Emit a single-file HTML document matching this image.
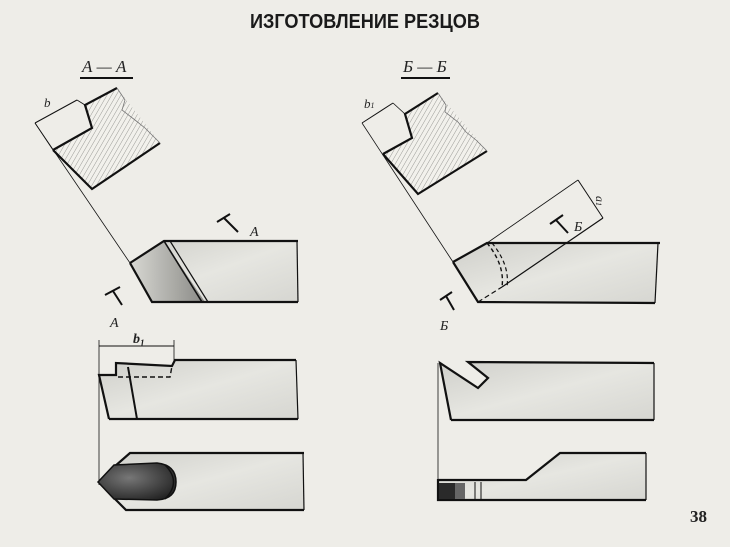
<!DOCTYPE html>
<html><head><meta charset="utf-8"><style>
html,body{margin:0;padding:0;width:730px;height:547px;overflow:hidden;background:#eeede8}
svg{display:block}
</style></head><body>
<svg width="730" height="547" viewBox="0 0 730 547" xmlns="http://www.w3.org/2000/svg" font-family="Liberation Serif, serif">
<defs>
<pattern id="h" width="4" height="4" patternUnits="userSpaceOnUse" patternTransform="rotate(30)">
<rect width="4" height="4" fill="#f2f1ec"/><line x1="0" y1="0" x2="0" y2="4" stroke="#9a9a96" stroke-width="1"/></pattern>
<linearGradient id="g" x1="0" y1="0" x2="1" y2="1"><stop offset="0" stop-color="#cfcfca"/><stop offset="0.5" stop-color="#e6e6e1"/><stop offset="1" stop-color="#d6d6d1"/></linearGradient>
<linearGradient id="gd" x1="0" y1="0" x2="1" y2="0"><stop offset="0" stop-color="#d8d8d3"/><stop offset="1" stop-color="#8a8a86"/></linearGradient>
<radialGradient id="tip" cx="0.4" cy="0.4" r="0.7"><stop offset="0" stop-color="#777"/><stop offset="1" stop-color="#222"/></radialGradient>
</defs>
<rect width="730" height="547" fill="#eeede8"/>
<text x="250" y="28" font-family="Liberation Sans, sans-serif" font-weight="bold" font-size="20" textLength="230" lengthAdjust="spacingAndGlyphs" fill="#1a1a1a">ИЗГОТОВЛЕНИЕ РЕЗЦОВ</text>

<g stroke="#111" fill="none">
<text x="82" y="72" font-style="italic" font-size="17" fill="#222" stroke="none">А — А</text>
<line x1="80" y1="78" x2="133" y2="78" stroke-width="2"/>
<polygon points="85,105 117,88 160,143 92,189 53,150 92,128" fill="url(#h)" stroke="none"/>
<polyline points="53,150 92,128 85,105 117,88" stroke-width="2.2"/>
<polyline points="160,143 92,189 53,150" stroke-width="2.2"/>
<path d="M117,88 L125,100 L122,110 L135,120 L145,128 L160,143" stroke-width="0.8" stroke="#777"/>
<line x1="35" y1="123" x2="77" y2="100" stroke-width="1"/>
<line x1="35" y1="123" x2="53" y2="150" stroke-width="0.8"/>
<line x1="77" y1="100" x2="85" y2="105" stroke-width="0.8"/>
<text x="44" y="107" font-size="13" font-style="italic" fill="#222" stroke="none">b</text>
<line x1="35" y1="123" x2="130" y2="263" stroke-width="0.8"/>
<polygon points="130,263 164,241 298,241 298,302 152,302" fill="url(#g)" stroke="none"/>
<polygon points="130,263 164,241 205,302 152,302" fill="url(#gd)" stroke="none"/>
<polyline points="130,263 164,241 298,241" stroke-width="2.2"/>
<polyline points="130,263 152,302 298,302" stroke-width="2.2"/>
<line x1="297" y1="241" x2="298" y2="302" stroke-width="1.2"/>
<line x1="164" y1="241" x2="202" y2="302" stroke-width="1.6"/>
<line x1="170" y1="241" x2="208" y2="302" stroke-width="1.2"/>
<path d="M217,222 L230,214 M224,218 L238,232" stroke-width="2"/>
<text x="250" y="236" font-size="14" font-style="italic" fill="#222" stroke="none">A</text>
<path d="M105,295 L120,287 M113,291 L122,305" stroke-width="2"/>
<text x="110" y="327" font-size="14" font-style="italic" fill="#222" stroke="none">A</text>

<line x1="99" y1="340" x2="99" y2="485" stroke-width="0.8"/>
<line x1="99" y1="346" x2="174" y2="346" stroke-width="1"/>
<line x1="174" y1="340" x2="174" y2="364" stroke-width="0.8"/>
<text x="133" y="343" font-size="14" font-style="italic" font-weight="bold" fill="#222" stroke="none">b<tspan font-size="9" dy="3">1</tspan></text>
<polygon points="109,419 99,375 116,375 116,363 172,366 175,360 296,360 298,419" fill="url(#g)" stroke="none"/>
<polyline points="109,419 99,375 116,375 116,363 172,366 175,360 296,360" stroke-width="2.2"/>
<line x1="109" y1="419" x2="298" y2="419" stroke-width="2.2"/>
<line x1="296" y1="360" x2="298" y2="419" stroke-width="1.2"/>
<line x1="128" y1="367" x2="137" y2="419" stroke-width="2"/>
<polyline points="118,377 170,377 172,366" stroke-width="1.4" stroke-dasharray="5,3"/>
<polygon points="130,453 304,453 304,510 126,510 114,498 98,482 114,467" fill="url(#g)" stroke="none"/>
<polyline points="114,467 130,453 304,453" stroke-width="2.2"/>
<polyline points="114,498 126,510 304,510" stroke-width="2.2"/>
<line x1="303" y1="453" x2="304" y2="510" stroke-width="1.2"/>
<path d="M98,482 L114,465 L157,463 Q176,465 176,482 Q176,499 157,500 L114,499 Z" fill="url(#tip)" stroke-width="1.5"/>
<path d="M165,465 Q182,482 165,499" stroke-width="1.4"/>

<text x="403" y="72" font-style="italic" font-size="17" fill="#222" stroke="none">Б — Б</text>
<line x1="401" y1="78" x2="450" y2="78" stroke-width="2"/>
<polygon points="383,154 412,138 405,114 438,93 487,151 418,194" fill="url(#h)" stroke="none"/>
<polyline points="383,154 412,138 405,114 438,93" stroke-width="2.2"/>
<polyline points="487,151 418,194 383,154" stroke-width="2.2"/>
<path d="M438,93 L446,105 L445,112 L458,122 L466,132 L476,140 L487,151" stroke-width="0.8" stroke="#777"/>
<line x1="362" y1="123" x2="393" y2="103" stroke-width="1"/>
<line x1="393" y1="103" x2="405" y2="114" stroke-width="0.8"/>
<text x="364" y="108" font-size="13" font-style="italic" fill="#222" stroke="none">b<tspan font-size="8">1</tspan></text>
<line x1="362" y1="123" x2="453" y2="262" stroke-width="0.8"/>
<polygon points="453,262 487,243 660,243 655,303 478,302" fill="url(#g)" stroke="none"/>
<polyline points="453,262 487,243 660,243" stroke-width="2.2"/>
<polyline points="453,262 478,302 655,303" stroke-width="2.2"/>
<line x1="658" y1="243" x2="655" y2="303" stroke-width="1.2"/>
<path d="M487,243 Q505,265 502,287" stroke-width="1.4" stroke-dasharray="4,3"/>
<path d="M492,243 Q510,265 507,287" stroke-width="1.2" stroke-dasharray="4,3"/>
<line x1="478" y1="302" x2="502" y2="287" stroke-width="1.2" stroke-dasharray="5,3"/>
<line x1="502" y1="287" x2="603" y2="218" stroke-width="1.2"/>
<line x1="487" y1="243" x2="578" y2="180" stroke-width="0.8"/>
<line x1="578" y1="180" x2="603" y2="218" stroke-width="1"/>
<text x="0" y="0" font-size="12" font-style="italic" fill="#222" stroke="none" transform="translate(596,196) rotate(90)">a<tspan font-size="8">1</tspan></text>
<path d="M550,224 L563,215 M556,220 L568,233" stroke-width="2"/>
<text x="574" y="231" font-size="14" font-style="italic" fill="#222" stroke="none">Б</text>
<path d="M440,300 L452,292 M446,296 L454,310" stroke-width="2"/>
<text x="440" y="330" font-size="14" font-style="italic" fill="#222" stroke="none">Б</text>

<line x1="438" y1="363" x2="438" y2="500" stroke-width="0.8"/>
<polygon points="440,363 478,388 488,378 468,362 654,363 654,420 451,420" fill="url(#g)" stroke="none"/>
<polyline points="451,420 440,363 478,388 488,378 468,362 654,363" stroke-width="2.2"/>
<line x1="451" y1="420" x2="654" y2="420" stroke-width="2.2"/>
<line x1="654" y1="363" x2="654" y2="420" stroke-width="1.2"/>
<polygon points="438,480 526,480 560,453 646,453 646,500 438,500" fill="url(#g)" stroke="none"/>
<polyline points="438,480 526,480 560,453 646,453" stroke-width="2.2"/>
<polyline points="438,479 438,500 646,500" stroke-width="2.2"/>
<line x1="646" y1="453" x2="646" y2="500" stroke-width="1.2"/>
<rect x="439" y="483" width="26" height="16" fill="#2a2a2a" stroke="none"/>
<rect x="455" y="483" width="10" height="16" fill="#666" stroke="none"/>
<line x1="475" y1="482" x2="475" y2="500" stroke-width="1"/>
<line x1="481" y1="482" x2="481" y2="500" stroke-width="1"/>
</g>
<text x="690" y="522" font-size="17" font-weight="bold" fill="#222">38</text>
</svg>
</body></html>
